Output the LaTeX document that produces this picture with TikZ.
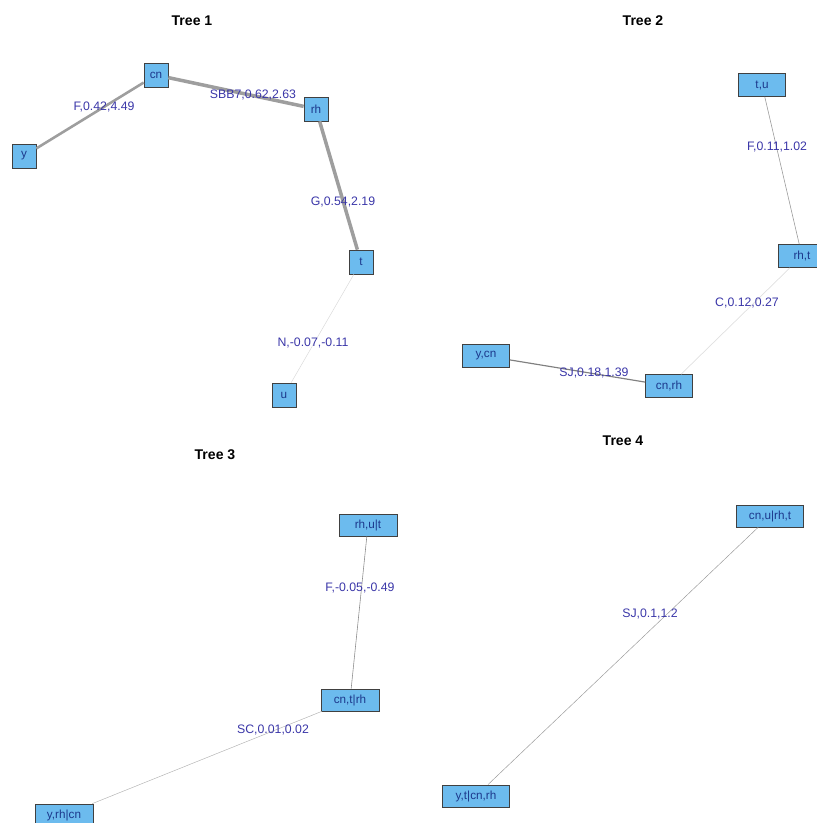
\documentclass[tikz,border=0pt]{standalone}
\usepackage{fontspec}
\setmainfont{Liberation Sans}
\usepackage{xcolor}
\usetikzlibrary{positioning}

\begin{document}
\begin{tikzpicture}[x=0.3mm, y=-0.3mm,
    var/.style={rectangle, draw=black!75, line width=0.6pt, fill=varcolor, text=vartext, inner sep=0pt, font=\fontsize{10}{11}\selectfont},
    var1/.style={var, minimum width=7.2mm, minimum height=7.2mm},
    var2/.style={var, minimum width=14.1mm, minimum height=6.9mm},
    var3/.style={var, minimum width=17.4mm, minimum height=6.6mm},
    var4/.style={var, minimum width=20.1mm, minimum height=6.6mm},
    title/.style={font=\fontsize{12}{14}\selectfont\bfseries},
    elabel/.style={text=labelcolor, inner sep=1pt, font=\fontsize{10.5}{12}\selectfont},
    edge/.style={draw=black!40}
]

% Colors
\definecolor{varcolor}{RGB}{108,187,238}     % node fill
\definecolor{vartext}{RGB}{28,56,140}        % node text
\definecolor{labelcolor}{RGB}{58,54,168}     % edge labels

\useasboundingbox (0,0) rectangle (816,823);

% Titles
\node[title] (title1) at (192,21) {Tree 1};
\node[title] (title2) at (643,21) {Tree 2};
\node[title] (title3) at (215,455) {Tree 3};
\node[title] (title4) at (623,441) {Tree 4};

% Tree 1
\node[var1] (cn) at (156,75) {cn};
\node[var1] (rh) at (316,109) {rh};
\node[var1] (y) at (24,156) {y};
\node[var1] (t) at (361,262) {t};
\node[var1] (u) at (284,395) {u};

% Tree 2
\node[var2] (tu) at (762,85) {t,u};
\node[var2] (rht) at (802,256) {rh,t};
\node[var2] (ycn) at (486,356) {y,cn};
\node[var2] (cnrh) at (669,386) {cn,rh};

% Tree 3
\node[var3] (rhut) at (368,525) {rh,u|t};
\node[var3] (cntrh) at (350,700) {cn,t|rh};
\node[var3] (yrhcn) at (64,815) {y,rh|cn};

% Tree 4
\node[var4] (cnurht) at (770,516) {cn,u|rh,t};
\node[var4] (ytcnrh) at (476,796) {y,t|cn,rh};

% Connections
\draw[edge, line width=2.2pt, draw=black!38] (y) -- (cn);
\draw[edge, line width=3pt, draw=black!38] (cn) -- (rh);
\draw[edge, line width=3pt, draw=black!38] (rh) -- (t);
\draw[edge, line width=0.4pt, draw=black!15] (t) -- (u);
\draw[edge, line width=0.5pt, draw=black!40] (tu) -- (rht);
\draw[edge, line width=0.6pt, draw=black!12] (rht) -- (cnrh);
\draw[edge, line width=1pt, draw=black!50] (ycn) -- (cnrh);
\draw[edge, line width=0.5pt, draw=black!45] (rhut) -- (cntrh);
\draw[edge, line width=0.4pt, draw=black!30] (cntrh) -- (yrhcn);
\draw[edge, line width=0.4pt, draw=black!40] (cnurht) -- (ytcnrh);

% Edge labels
\node[elabel] (l1) at (104,107) {F,0.42,4.49};
\node[elabel] (l2) at (253,95) {SBB7,0.62,2.63};
\node[elabel] (l3) at (343,202) {G,0.54,2.19};
\node[elabel] (l4) at (313,343) {N,-0.07,-0.11};
\node[elabel] (l5) at (777,147) {F,0.11,1.02};
\node[elabel] (l6) at (747,303) {C,0.12,0.27};
\node[elabel] (l7) at (594,373) {SJ,0.18,1.39};
\node[elabel] (l8) at (360,588) {F,-0.05,-0.49};
\node[elabel] (l9) at (273,730) {SC,0.01,0.02};
\node[elabel] (l10) at (650,614) {SJ,0.1,1.2};

\end{tikzpicture}
\end{document}
